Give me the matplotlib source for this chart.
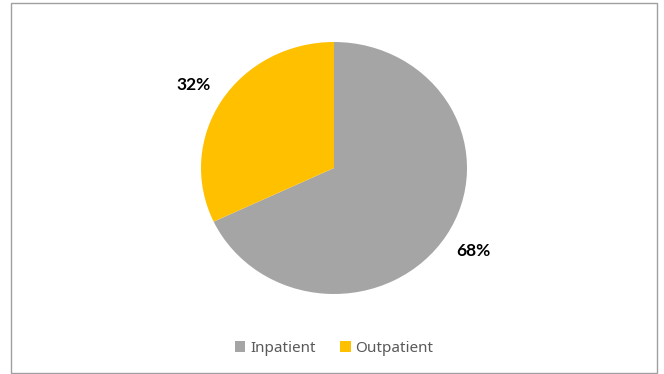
import matplotlib.pyplot as plt
from matplotlib.patches import Rectangle
import matplotlib.transforms as mtransforms

plt.rcParams['font.family'] = ['Noto Sans', 'DejaVu Sans']

labels = ['Inpatient', 'Outpatient']
shares = [68, 32]
colors = ['#A5A5A5', '#FFC000']

fig = plt.figure(figsize=(6.64, 3.74), dpi=100)

# chart border
fig.patches.append(Rectangle((11 / 664, 1 / 374), 646 / 664, 370 / 374,
                             transform=fig.transFigure, fill=False,
                             edgecolor='#A0A0A0', linewidth=1))

ax = fig.add_axes([(334 - 133) / 664, (374 - 294) / 374, 266 / 664, 252 / 374])
wedges, texts, autotexts = ax.pie(shares, colors=colors, startangle=90, counterclock=False,
                                  autopct='%1.0f%%', pctdistance=1.24,
                                  wedgeprops=dict(linewidth=0))
# small nudges so labels sit like the original (pixels)
nudges = [(0, 1), (-1, -1)]
for t, (dx, dy) in zip(autotexts, nudges):
    t.set_family(['Lato', 'DejaVu Sans'])
    t.set_fontsize(12.5)
    t.set_fontweight('bold')
    t.set_color('black')
    t.set_transform(t.get_transform() + mtransforms.ScaledTranslation(dx / 100, dy / 100, fig.dpi_scale_trans))
ax.set_aspect('auto')
ax.set_xlim(-1, 1)
ax.set_ylim(-1, 1)

fig.legend(wedges, labels, loc='center', bbox_to_anchor=(334 / 664, 1 - 348 / 374),
           ncol=2, frameon=False, fontsize=11, handlelength=0.7, handleheight=0.7,
           handletextpad=0.3, columnspacing=1.6, labelcolor='#595959')

fig.savefig('out.png', dpi=100)
